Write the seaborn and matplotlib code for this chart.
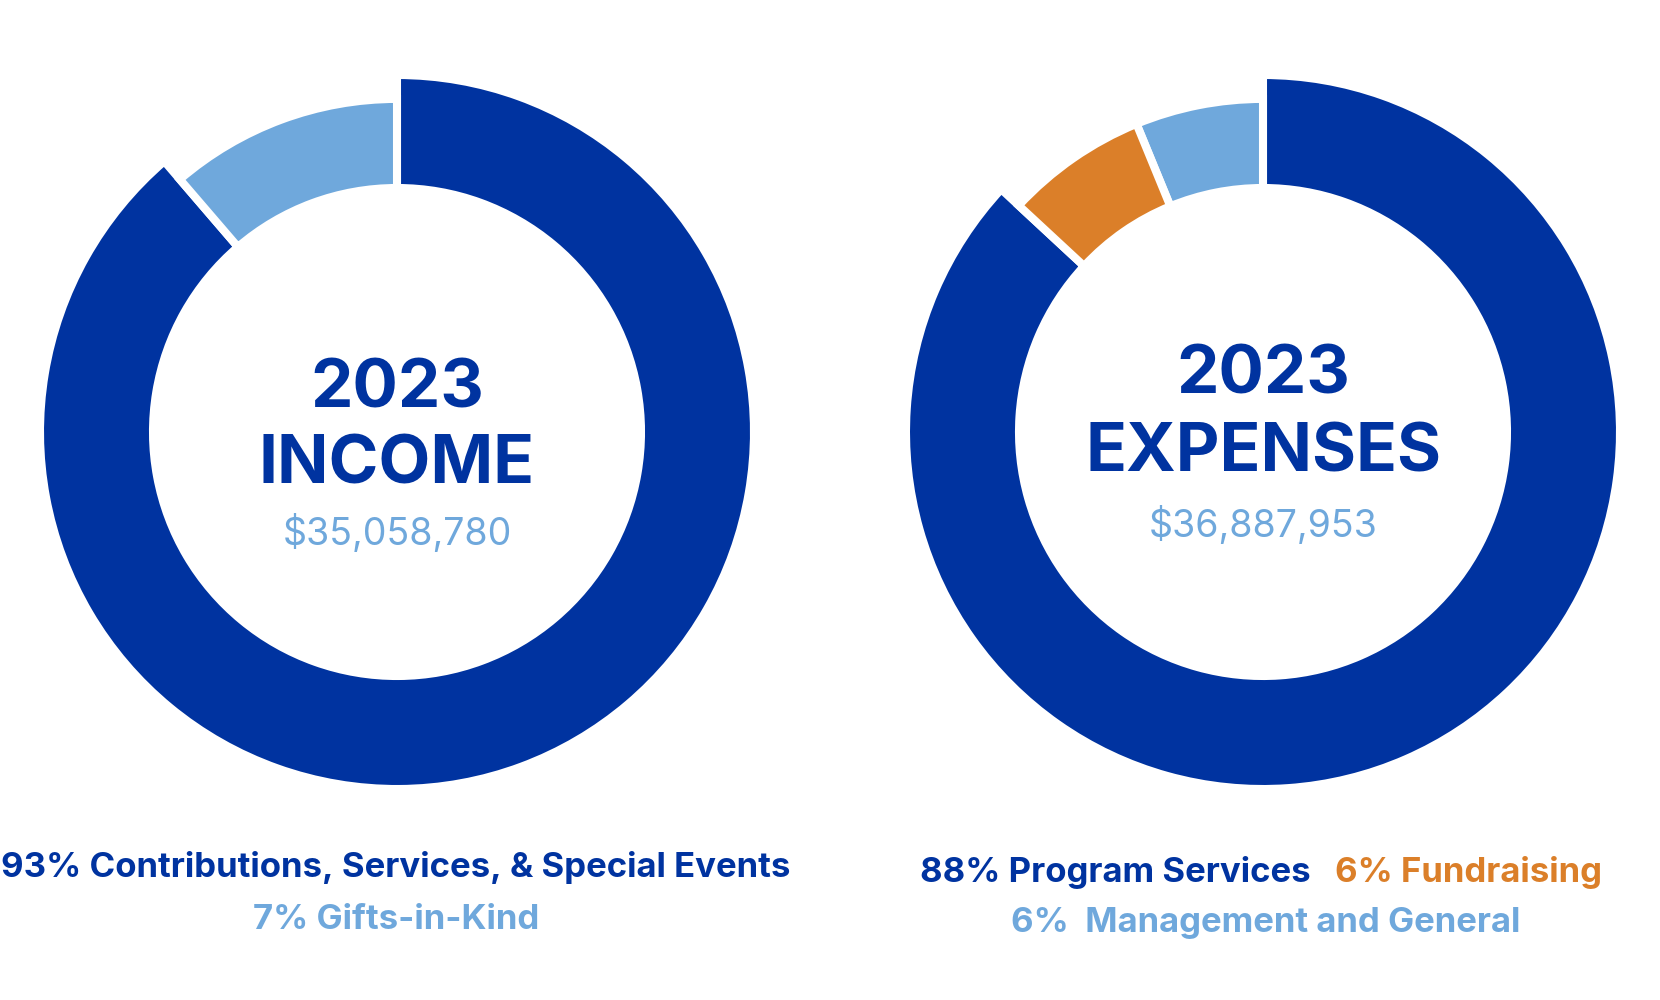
import matplotlib
matplotlib.use("Agg")
import matplotlib.pyplot as plt
import seaborn as sns

# --- DATA (shares as drawn in the rings, labels as printed) ---
income_labels = ["Gifts-in-Kind", "Contributions, Services, & Special Events"]
income_shares = [11.3, 88.7]
income_pct_text = ["7%", "93%"]
income_total = "$35,058,780"

expense_labels = ["Management and General", "Fundraising", "Program Services"]
expense_shares = [6.2, 6.9, 86.9]
expense_pct_text = ["6%", "6%", "88%"]
expense_total = "$36,887,953"

DARK = "#0033A0"
LIGHT = "#6FA8DC"
ORANGE = "#DB7F29"
income_colors = [LIGHT, DARK]
expense_colors = [LIGHT, ORANGE, DARK]

sns.set_theme(style="white")
plt.rcParams['font.family'] = ['Inter', 'DejaVu Sans']

W, H = 1660, 1000
fig = plt.figure(figsize=(W / 100, H / 100), dpi=100)
fig.patch.set_facecolor("white")

R_IN = 0.6835     # inner radius (same for all wedges)
R_SMALL = 0.933   # outer radius of the minor slices
GAP = 5.8         # white gap between slices (pt)


def donut(cx, cy, shares, colors):
    half = 357
    ax = fig.add_axes([(cx - half) / W, 1 - (cy + half) / H, 2 * half / W, 2 * half / H])
    big = len(shares) - 1
    # major slice, full radius
    wedges, _ = ax.pie(shares, colors=colors, startangle=90, counterclock=True,
                       radius=1.0, wedgeprops=dict(width=1.0 - R_IN, edgecolor="white", linewidth=GAP))
    for i, w in enumerate(wedges):
        w.set_visible(i == big)
    # minor slices, slightly smaller outer radius
    wedges, _ = ax.pie(shares, colors=colors, startangle=90, counterclock=True,
                       radius=R_SMALL, wedgeprops=dict(width=R_SMALL - R_IN, edgecolor="white", linewidth=GAP))
    for i, w in enumerate(wedges):
        w.set_visible(i != big)
    ax.set_xlim(-1, 1)
    ax.set_ylim(-1, 1)
    ax.axis("off")
    return ax


def ftext(x, y, s, **kw):
    # y is the baseline in pixels from the top
    fig.text(x / W, 1 - y / H, s, ha="center", va="baseline", **kw)


TITLE = dict(fontsize=48.5, fontweight="bold", color=DARK)
TOTAL = dict(fontsize=27, fontweight="normal", color=LIGHT)
LEG = dict(fontsize=25, fontweight="bold")

# --- INCOME ---
donut(397, 432, income_shares, income_colors)
ftext(397, 407, "2023", **TITLE)
ftext(397, 484, "INCOME", **TITLE)
ftext(397, 545, income_total, **TOTAL)
ftext(396, 877, f"{income_pct_text[1]} {income_labels[1]}", color=DARK, **LEG)
ftext(396, 929, f"{income_pct_text[0]} {income_labels[0]}", color=LIGHT, **LEG)

# --- EXPENSES ---
donut(1263, 432, expense_shares, expense_colors)
ftext(1263, 393, "2023", **TITLE)
ftext(1263, 472, "EXPENSES", **TITLE)
ftext(1263, 537, expense_total, **TOTAL)
ftext(1115, 882, f"{expense_pct_text[2]} {expense_labels[2]}", color=DARK, **LEG)
ftext(1468, 882, f"{expense_pct_text[1]} {expense_labels[1]}", color=ORANGE, **LEG)
ftext(1266, 932, f"{expense_pct_text[0]}  {expense_labels[0]}", color=LIGHT, **LEG)

fig.savefig("out.png", dpi=100, facecolor="white")
